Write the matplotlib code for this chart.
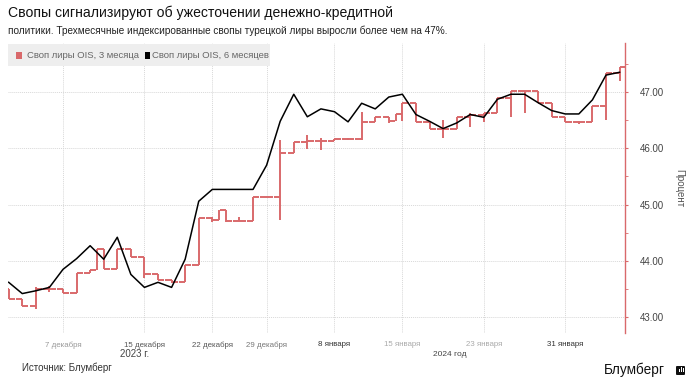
import matplotlib
matplotlib.use("Agg")
from matplotlib import pyplot as plt
from matplotlib.collections import LineCollection
from matplotlib.patches import Rectangle, FancyBboxPatch

plt.rcParams['font.family'] = ['Liberation Sans', 'DejaVu Sans']

# trading-day index (0 = 7 December 2023)
days = list(range(-4, 42))

# 6-month OIS swap, percent
ois_6m = [43.62, 43.42, 43.47, 43.53, 43.85, 44.04, 44.27, 44.03, 44.42, 43.76,
          43.53, 43.62, 43.53, 44.03, 45.06, 45.27, 45.27, 45.27, 45.27, 45.70,
          46.48, 46.96, 46.56, 46.70, 46.65, 46.47, 46.80, 46.70, 46.91, 46.96,
          46.60, 46.48, 46.35, 46.45, 46.60, 46.55, 46.87, 46.96, 46.96, 46.81,
          46.67, 46.61, 46.61, 46.86, 47.30, 47.35]

# 3-month OIS swap, open / high / low / close
ois_3m_open = [43.51, 43.33, 43.20, 43.50, 43.50, 43.43, 43.78, 44.22, 43.85, 44.22,
               44.07, 43.76, 43.67, 43.63, 43.92, 44.77, 44.91, 44.71, 44.71, 45.13,
               45.13, 45.91, 46.12, 46.13, 46.13, 46.16, 46.16, 46.46, 46.56, 46.61,
               46.81, 46.46, 46.35, 46.35, 46.56, 46.59, 46.62, 46.90, 47.01, 47.01,
               46.80, 46.55, 46.46, 46.46, 46.76, 47.33]
ois_3m_high = [43.51, 43.33, 43.53, 43.55, 43.50, 43.78, 43.84, 44.22, 44.22, 44.22,
               44.07, 43.76, 43.67, 43.92, 44.77, 44.78, 44.91, 44.78, 45.13, 45.13,
               46.15, 46.12, 46.24, 46.19, 46.16, 46.18, 46.65, 46.56, 46.56, 46.81,
               46.81, 46.46, 46.50, 46.56, 46.62, 46.62, 46.90, 47.01, 47.01, 47.01,
               46.80, 46.55, 46.48, 46.76, 47.33, 47.45]
ois_3m_low = [43.33, 43.20, 43.15, 43.45, 43.43, 43.43, 43.78, 43.85, 43.85, 44.07,
              43.70, 43.67, 43.60, 43.63, 43.92, 44.70, 44.69, 44.71, 44.71, 45.13,
              44.72, 45.91, 45.98, 45.97, 46.13, 46.14, 46.15, 46.46, 46.45, 46.48,
              46.46, 46.35, 46.18, 46.35, 46.37, 46.47, 46.62, 46.55, 46.62, 46.80,
              46.55, 46.46, 46.44, 46.46, 46.50, 47.20]
ois_3m_close = [43.33, 43.20, 43.50, 43.50, 43.43, 43.78, 43.84, 43.85, 44.22, 44.07,
                43.76, 43.67, 43.63, 43.92, 44.77, 44.72, 44.71, 44.71, 45.13, 45.13,
                45.91, 46.12, 46.13, 46.13, 46.16, 46.16, 46.46, 46.56, 46.48, 46.81,
                46.46, 46.35, 46.35, 46.56, 46.59, 46.62, 46.90, 47.01, 47.01, 46.80,
                46.55, 46.46, 46.46, 46.76, 47.33, 47.45]

tick_pos = [0, 6, 11, 15, 20, 25, 31, 37]
tick_labels = ["7 декабря", "15 декабря", "22 декабря", "29 декабря",
               "8 января", "15 января", "23 января", "31 января"]
tick_colors = ["#999999", "#555555", "#555555", "#777777",
               "#333333", "#aaaaaa", "#aaaaaa", "#333333"]

red = "#d9696b"

fig = plt.figure(figsize=(6.95, 3.83), dpi=100)
ax = fig.add_axes([8 / 695, 1 - 333 / 383, 617 / 695, 290 / 383])

# 3-month swap as open/close ticks plus high-low bars
segs = []
w = 0.46
for i, d in enumerate(days):
    segs.append([(d - w, ois_3m_open[i]), (d, ois_3m_open[i])])
    segs.append([(d, ois_3m_close[i]), (d + w, ois_3m_close[i])])
    lo = min(ois_3m_low[i], ois_3m_open[i], ois_3m_close[i])
    hi = max(ois_3m_high[i], ois_3m_open[i], ois_3m_close[i])
    segs.append([(d, lo), (d, hi)])
    if i > 0 and abs(ois_3m_open[i] - ois_3m_close[i - 1]) > 0.03:
        segs.append([(d - 0.5, ois_3m_close[i - 1]), (d - 0.5, ois_3m_open[i])])
ax.add_collection(LineCollection(segs, colors=red, linewidths=1.4, capstyle="butt"))

ax.plot(days, ois_6m, color="black", linewidth=1.1)

ax.set_xlim(-4.05, 41.4)
ax.set_ylim(42.72, 47.87)

ax.yaxis.tick_right()
ax.set_yticks([43, 44, 45, 46, 47])
ax.set_yticks([43.5, 44.5, 45.5, 46.5, 47.5], minor=True)
ax.set_yticklabels(["43.00", "44.00", "45.00", "46.00", "47.00"])
ax.tick_params(axis="y", which="both", direction="out", length=2, color=red,
               labelsize=7, labelcolor="#444444", pad=9)
ax.yaxis.set_label_position("right")
ax.set_ylabel("Процент", rotation=-90, fontsize=7, color="#555555", labelpad=14)

ax.set_xticks(tick_pos)
ax.set_xticklabels(tick_labels)
ax.tick_params(axis="x", length=0, labelsize=5.7, pad=6)
for lab, c in zip(ax.get_xticklabels(), tick_colors):
    lab.set_color(c)

ax.grid(True, color="#d8d8d8", linestyle=(0, (1, 1)), linewidth=0.7)
for s in ["top", "left", "bottom"]:
    ax.spines[s].set_visible(False)
ax.spines["right"].set_color(red)
ax.spines["right"].set_linewidth(1.0)

# titles
fig.text(8 / 695, 1 - 13 / 383, "Свопы сигнализируют об ужесточении денежно-кредитной",
         fontsize=10.1, color="#111111", va="center")
fig.text(8 / 695, 1 - 31 / 383,
         "политики. Трехмесячные индексированные свопы турецкой лиры выросли более чем на 47%.",
         fontsize=7.2, color="#222222", va="center")

# legend box
fig.patches.append(Rectangle((8 / 695, 1 - 66 / 383), 262 / 695, 22 / 383,
                             transform=fig.transFigure, facecolor="#eeeeee",
                             edgecolor="none", zorder=0))
fig.patches.append(Rectangle((16 / 695, 1 - 59 / 383), 6 / 695, 7 / 383,
                             transform=fig.transFigure, facecolor=red, edgecolor="none"))
fig.text(27 / 695, 1 - 55.5 / 383, "Своп лиры OIS, 3 месяца", fontsize=6.8,
         color="#666666", va="center")
fig.patches.append(Rectangle((145 / 695, 1 - 59 / 383), 5 / 695, 7 / 383,
                             transform=fig.transFigure, facecolor="black", edgecolor="none"))
fig.text(152 / 695, 1 - 55.5 / 383, "Своп лиры OIS, 6 месяцев", fontsize=6.8,
         color="#666666", va="center")

# year labels
fig.text(135 / 695, 1 - 354 / 383, "2023 г.", fontsize=7, color="#444444",
         ha="center", va="center")
fig.text(450 / 695, 1 - 355 / 383, "2024 год", fontsize=6, color="#444444",
         ha="center", va="center")

# footer
fig.text(22 / 695, 1 - 368 / 383, "Источник: Блумберг", fontsize=7,
         color="#333333", va="center")
fig.text(665 / 695, 1 - 370 / 383, "Блумберг", fontsize=9.8, color="#111111",
         ha="right", va="center")
fig.patches.append(FancyBboxPatch((676 / 695, 1 - 375 / 383), 9 / 695, 9 / 383,
                                  boxstyle="round,pad=0,rounding_size=0.002",
                                  transform=fig.transFigure, facecolor="#111111",
                                  edgecolor="none"))
for bx, bh in [(678.5, 3), (680.5, 5), (682.5, 4)]:
    fig.patches.append(Rectangle((bx / 695, 1 - 372 / 383), 1 / 695, bh / 383,
                                 transform=fig.transFigure, facecolor="white",
                                 edgecolor="none"))

fig.savefig("out.png", dpi=100)
